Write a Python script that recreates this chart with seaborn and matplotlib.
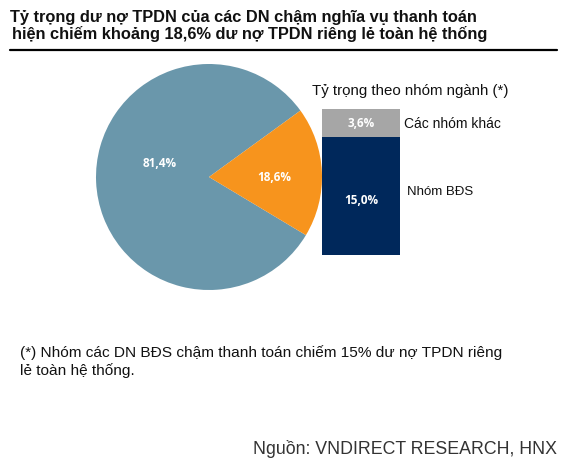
import matplotlib
matplotlib.use("Agg")
import matplotlib.pyplot as plt
import seaborn as sns
import pandas as pd

# data
pie_labels = ["Còn lại", "DN chậm nghĩa vụ thanh toán"]
pie_values = [81.4, 18.6]
group_names = ["Nhóm BĐS", "Các nhóm khác"]
group_values = [15.0, 3.6]

W, H = 565, 459
sns.set_theme(style="white")
plt.rcParams['font.family'] = ['Liberation Sans', 'DejaVu Sans']

fig = plt.figure(figsize=(W / 100, H / 100), dpi=100)


def fx(x):
    return x / W


def fy(y):
    return 1 - y / H


def pct(v):
    return f"{v:.1f}".replace(".", ",") + "%"


# title + rule
fig.text(fx(10), fy(22), "Tỷ trọng dư nợ TPDN của các DN chậm nghĩa vụ thanh toán",
         fontsize=11.8, fontweight='bold', va='baseline', color='#111111')
fig.text(fx(12), fy(39), "hiện chiếm khoảng 18,6% dư nợ TPDN riêng lẻ toàn hệ thống",
         fontsize=11.8, fontweight='bold', va='baseline', color='#111111')
fig.add_artist(plt.Line2D([fx(10), fx(557)], [fy(49.5), fy(49.5)], color='black', lw=1.6))

# pie
cx, cy, r = 209, 177, 113
ax_pie = fig.add_axes([fx(cx - r), fy(cy + r), 2 * r / W, 2 * r / H])
pie_colors = ['#6A97AB', '#F7941D']
ax_pie.pie(pie_values, colors=pie_colors, startangle=36, counterclock=True,
           wedgeprops=dict(linewidth=0))
ax_pie.set_xlim(-1, 1)
ax_pie.set_ylim(-1, 1)
ax_pie.set_aspect('auto')
ax_pie.axis('off')
ax_pie.text(-0.44, 0.12, pct(pie_values[0]), color='white', fontsize=8.5,
            fontweight='bold', family=['Open Sans'], ha='center', va='center')
ax_pie.text(0.58, 0.0, pct(pie_values[1]), color='white', fontsize=8.5,
            fontweight='bold', family=['Open Sans'], ha='center', va='center')

# stacked bar (total bar in gray, BĐS part over it)
total = sum(group_values)
ax_bar = fig.add_axes([fx(322), fy(255), 78 / W, (255 - 109) / H])
df_total = pd.DataFrame({"g": ["x"], "v": [total]})
df_bds = pd.DataFrame({"g": ["x"], "v": [group_values[0]]})
sns.barplot(data=df_total, x="g", y="v", color='#A6A6A6', saturation=1,
            width=0.8, ax=ax_bar, linewidth=0)
sns.barplot(data=df_bds, x="g", y="v", color='#00285B', saturation=1,
            width=0.8, ax=ax_bar, linewidth=0)
ax_bar.set_xlim(-0.4, 0.4)
ax_bar.set_ylim(0, total)
ax_bar.axis('off')
ax_bar.text(0, group_values[0] + group_values[1] / 2, pct(group_values[1]),
            color='white', fontsize=8.5, fontweight='bold', family=['Open Sans'],
            ha='center', va='center')
ax_bar.text(0, group_values[0] * 0.5 - 0.6, pct(group_values[0]),
            color='white', fontsize=8.5, fontweight='bold', family=['Open Sans'],
            ha='center', va='center')

fig.text(fx(312), fy(95), "Tỷ trọng theo nhóm ngành (*)", fontsize=10.8,
         va='baseline', color='#111111')
fig.text(fx(404), fy(128), group_names[1], fontsize=10, va='baseline', color='#111111')
fig.text(fx(407), fy(195), group_names[0], fontsize=9.5, va='baseline', color='#111111')

# footnote + source
fig.text(fx(20), fy(357), "(*) Nhóm các DN BĐS chậm thanh toán chiếm 15% dư nợ TPDN riêng",
         fontsize=11.1, va='baseline', color='#111111')
fig.text(fx(20), fy(375), "lẻ toàn hệ thống.", fontsize=11.1, va='baseline', color='#111111')
fig.text(fx(557), fy(454), "Nguồn: VNDIRECT RESEARCH, HNX", fontsize=12.8,
         va='baseline', ha='right', color='#333333')

fig.savefig("out.png", dpi=100)
